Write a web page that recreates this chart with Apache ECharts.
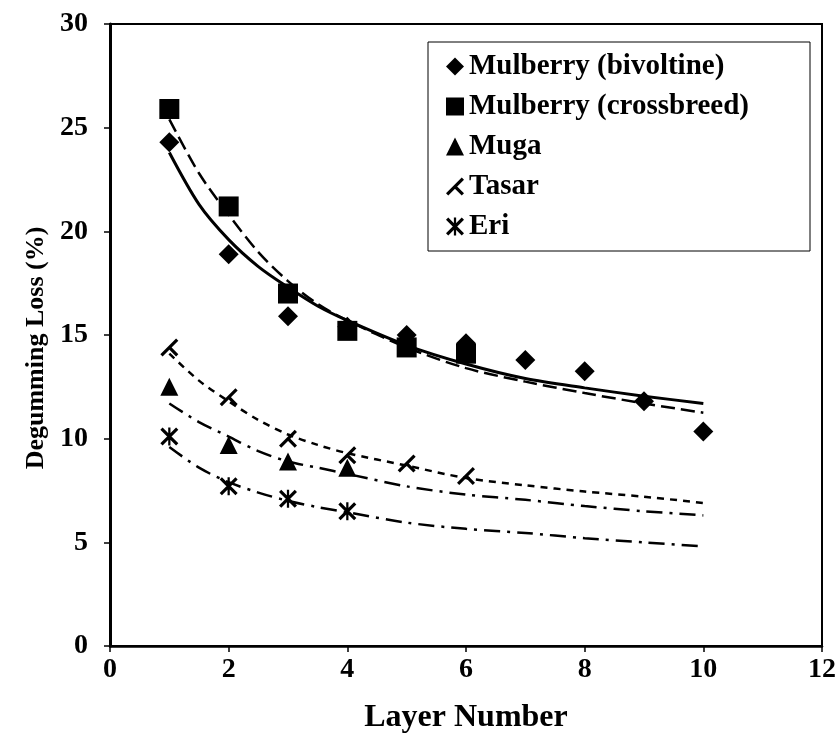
<!DOCTYPE html>
<html lang="en">
<head>
<meta charset="utf-8">
<title>Degumming Loss by Layer</title>
<script src="https://cdn.jsdelivr.net/npm/echarts@6/dist/echarts.min.js"></script>
<style>
    html, body { margin: 0; padding: 0; background: #fff; }
    #chart { width: 840px; height: 750px; }
</style>
</head>
<body>
<div id="chart"></div>
<script>
    // measured points (layer -> loss %)
    var layers = [1, 2, 3, 4, 5, 6, 7, 8, 9, 10];
    var bivoltine = [24.3, 18.9, 15.9, 15.4, 15.0, 14.6, 13.8, 13.25, 11.8, 10.35];
    var crossbreed = [25.9, 21.2, 17.0, 15.2, 14.4, 14.1];
    var muga = [12.5, 9.7, 8.9, 8.6];
    var tasar = [14.4, 12.0, 10.0, 9.2, 8.8, 8.2];
    var eri = [10.1, 7.7, 7.1, 6.5];

    // trend curves
    var fitX = [1, 1.5, 2, 2.5, 3, 3.5, 4, 5, 6, 7, 8, 9, 10];
    var bivoltineFit = [23.8, 21.3, 19.6, 18.3, 17.3, 16.4, 15.7, 14.5, 13.6, 12.9, 12.45, 12.05, 11.7];
    var crossbreedFit = [25.4, 22.8, 20.8, 19.0, 17.6, 16.5, 15.7, 14.4, 13.4, 12.75, 12.2, 11.7, 11.25];
    var tasarFit = [14.1, 12.8, 11.8, 10.9, 10.2, 9.7, 9.3, 8.7, 8.1, 7.75, 7.45, 7.2, 6.9];
    var mugaFit = [11.7, 10.8, 10.1, 9.4, 8.9, 8.6, 8.3, 7.7, 7.3, 7.05, 6.75, 6.5, 6.3];
    var eriFit = [9.6, 8.6, 7.9, 7.4, 7.0, 6.7, 6.45, 5.95, 5.65, 5.45, 5.2, 5.0, 4.8];

    var names = ['Mulberry (bivoltine)', 'Mulberry (crossbreed)', 'Muga', 'Tasar', 'Eri'];

    // marker shapes for Tasar and Eri
    var tasarIcon = 'path://M17.5 0L20 2.5L2.5 20L0 17.5Z M11.25 8.75L20 17.5L17.5 20L8.75 11.25Z';
    var eriIcon = 'path://M8.75 0L11.25 0L11.25 20L8.75 20Z M17.5 0L20 2.5L2.5 20L0 17.5Z M2.5 0L20 17.5L17.5 20L0 2.5Z';

    var font = 'Liberation Serif';

    function pairs(xs, ys) {
        return ys.map(function (y, i) { return [xs[i], y]; });
    }

    function points(name, ys, symbol, size) {
        return {
            name: name,
            type: 'scatter',
            data: pairs(layers, ys),
            symbol: symbol,
            symbolSize: size,
            itemStyle: { color: '#000', opacity: 1 },
            z: 3
        };
    }

    function trend(ys, dash, width) {
        return {
            type: 'line',
            data: pairs(fitX, ys),
            smooth: 0.3,
            showSymbol: false,
            silent: true,
            lineStyle: { color: '#000', width: width, type: dash },
            z: 2
        };
    }

    var myChart = echarts.init(document.getElementById('chart'));
    myChart.setOption({
        backgroundColor: '#fff',
        animation: false,
        grid: {
            left: 110, right: 18, top: 24, bottom: 104,
            show: true, borderColor: '#000', borderWidth: 2
        },
        legend: {
            left: 428, top: 42,
            orient: 'vertical',
            itemWidth: 18, itemHeight: 18,
            itemGap: 11,
            padding: [10, 61, 10, 18],
            backgroundColor: '#fff',
            borderColor: '#000',
            borderWidth: 1,
            textStyle: { fontFamily: font, fontWeight: 'bold', fontSize: 29, color: '#000' },
            data: [
                { name: names[0], icon: 'diamond' },
                { name: names[1], icon: 'rect' },
                { name: names[2], icon: 'triangle' },
                { name: names[3], icon: tasarIcon },
                { name: names[4], icon: eriIcon }
            ]
        },
        xAxis: {
            type: 'value',
            min: 0, max: 12, interval: 2,
            name: 'Layer Number',
            nameLocation: 'middle',
            nameGap: 56,
            nameTextStyle: { fontFamily: font, fontWeight: 'bold', fontSize: 32, color: '#000' },
            axisLine: { lineStyle: { color: '#000', width: 2.5 } },
            axisTick: { inside: false, length: 6, lineStyle: { color: '#000', width: 1.5 } },
            axisLabel: { margin: 10, fontFamily: font, fontWeight: 'bold', fontSize: 28, color: '#000' },
            splitLine: { show: false }
        },
        yAxis: {
            type: 'value',
            min: 0, max: 30, interval: 5,
            name: 'Degumming Loss (%)',
            nameLocation: 'middle',
            nameGap: 56,
            nameTextStyle: { fontFamily: font, fontWeight: 'bold', fontSize: 26, color: '#000', padding: [0, 26, 0, 0] },
            axisLine: { lineStyle: { color: '#000', width: 3 } },
            axisTick: { inside: false, length: 6, lineStyle: { color: '#000', width: 1.5 } },
            axisLabel: { margin: 22, fontFamily: font, fontWeight: 'bold', fontSize: 28, color: '#000' },
            splitLine: { show: false }
        },
        series: [
            trend(bivoltineFit, 'solid', 3),
            trend(crossbreedFit, [14, 6], 2.5),
            trend(mugaFit, [16, 7, 3, 7], 2.5),
            trend(tasarFit, [7, 6], 2.5),
            trend(eriFit, [16, 7, 3, 7], 2.5),
            points(names[0], bivoltine, 'diamond', 20),
            points(names[1], crossbreed, 'rect', 20),
            points(names[2], muga, 'triangle', 18),
            points(names[3], tasar, tasarIcon, 18),
            points(names[4], eri, eriIcon, 18)
        ]
    });
</script>
</body>
</html>
